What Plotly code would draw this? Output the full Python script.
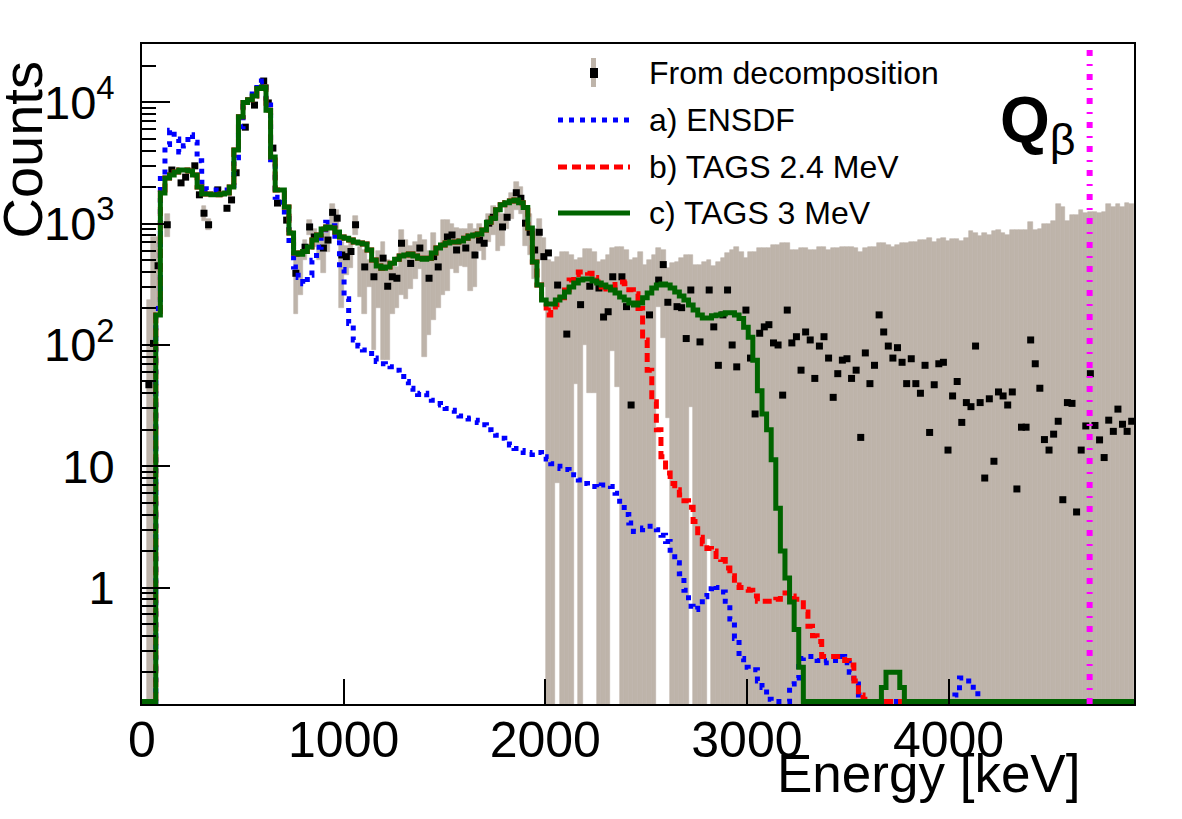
import numpy as np
import plotly.graph_objects as go

# ---------------- data ----------------
E_MAX = 4920.0          # keV, right end of the axis
N_BINS = 216            # histogram bins over [0, E_MAX]
Q_BETA = 4700.0         # keV, Q-beta marker
Y_LOG_RANGE = [-0.96, 4.4815]

X_TICKS = [0, 1000, 2000, 3000, 4000]
X_TICK_TEXT = ["0", "1000", "2000", "3000", "4000"]
Y_TICKS = [1, 10, 100, 1000, 10000]
Y_TICK_TEXT = ["1", "10", "10<sup>2</sup>", "10<sup>3</sup>", "10<sup>4</sup>"]

# c) TAGS 3 MeV
TAGS_3 = [
    0, 0, 0, 177, 1790, 2380, 2520, 2670, 2770, 2770,
    2720, 2520, 2010, 1760, 1760, 1730, 1730, 1760, 1790, 2010,
    4050, 7600, 10000, 10500, 11300, 13000, 13400, 8600, 3550, 1900,
    1900, 1370, 840, 574, 560, 590, 643, 733, 807, 904,
    940, 920, 855, 777, 760, 733, 706, 694, 680, 607,
    502, 448, 430, 440, 473, 510, 542, 552, 562, 542,
    520, 510, 520, 574, 629, 667, 694, 706, 706, 720,
    760, 790, 807, 821, 887, 1030, 1110, 1300, 1430, 1490,
    1540, 1570, 1490, 1360, 920, 483, 312, 235, 218, 218,
    235, 249, 274, 301, 325, 343, 350, 350, 337, 325,
    312, 301, 284, 268, 249, 235, 222, 214, 222, 245,
    268, 295, 312, 318, 312, 295, 274, 253, 235, 214,
    194, 177, 167, 167, 174, 177, 180, 184, 184, 177,
    165, 140, 116, 75, 42, 27, 20, 11.3, 4.5, 2.0,
    1.2, 0.76, 0.45, 0.22, 0, 0, 0, 0, 0, 0,
    0, 0, 0, 0, 0, 0, 0, 0, 0, 0,
    0, 0.15, 0.2, 0.2, 0.2, 0.15, 0, 0, 0, 0,
] + [0] * 46

# b) TAGS 2.4 MeV
TAGS_24 = [
    0, 0, 0, 177, 1790, 2380, 2520, 2670, 2770, 2770,
    2720, 2520, 2010, 1760, 1760, 1730, 1730, 1760, 1790, 2010,
    4050, 7600, 10000, 10500, 11300, 13000, 13400, 8600, 3550, 1900,
    1900, 1370, 840, 574, 560, 590, 643, 733, 807, 904,
    940, 920, 855, 777, 760, 733, 706, 694, 680, 607,
    502, 448, 430, 440, 473, 510, 542, 552, 562, 542,
    520, 510, 520, 574, 629, 667, 694, 706, 706, 720,
    760, 790, 807, 821, 887, 1030, 1110, 1300, 1430, 1490,
    1540, 1570, 1490, 1360, 920, 483, 312, 220, 177, 194,
    215, 245, 284, 343, 380, 400, 400, 390, 360, 330,
    300, 290, 295, 315, 330, 320, 285, 265, 200, 110,
    62, 34, 20, 12, 8.8, 7.2, 6.4, 5.8, 5.2, 4.6,
    3.5, 2.6, 2.3, 2.1, 2.0, 1.8, 1.7, 1.45, 1.25, 1.05,
    1.0, 0.97, 0.95, 0.85, 0.77, 0.77, 0.77, 0.77, 0.8, 0.9,
    0.9, 0.85, 0.8, 0.8, 0.63, 0.48, 0.4, 0.36, 0.27, 0.27,
    0.27, 0.27, 0.27, 0.25, 0.23, 0.17, 0.13, 0.12, 0, 0,
] + [0] * 56

# a) ENSDF
ENSDF = [
    0, 0, 0, 200, 2500, 4500, 5900, 5000, 3900, 4400,
    5400, 4700, 3300, 2200, 1900, 1900, 1900, 1900, 1900, 1900,
    3500, 6300, 9300, 11100, 12500, 14500, 15000, 9500, 3200, 1650,
    1500, 1250, 670, 440, 360, 320, 375, 500, 640, 890,
    1030, 960, 733, 420, 240, 150, 110, 98, 91, 85,
    78, 73, 70, 68, 66, 62, 55, 50, 44, 40,
    39, 40, 37, 35, 33, 32, 30, 29, 27, 26,
    25, 24.5, 24, 23, 22, 20, 19, 18, 17, 16,
    15, 14, 13.5, 13, 12.5, 13, 13, 12, 11.5, 10.5,
    10, 9.6, 9.4, 9.0, 8.5, 7.7, 7.2, 6.9, 6.8, 6.7,
    7.0, 7.0, 6.8, 6.0, 4.9, 4.0, 3.4, 2.9, 3.0, 3.1,
    3.2, 3.2, 3.0, 2.7, 2.4, 1.9, 1.6, 1.3, 0.95, 0.7,
    0.66, 0.72, 0.84, 0.98, 1.04, 1.0, 0.92, 0.77, 0.55, 0.38,
    0.26, 0.22, 0.21, 0.21, 0.17, 0.15, 0.12, 0, 0, 0,
    0, 0.16, 0.18, 0.26, 0.27, 0.27, 0.27, 0.25, 0.24, 0.25,
    0.25, 0.26, 0.27, 0.24, 0.2, 0.16, 0.13, 0, 0, 0,
    0, 0, 0, 0, 0, 0, 0, 0, 0, 0,
    0, 0, 0, 0, 0, 0, 0, 0.13, 0.18, 0.18,
    0.17, 0.14,
] + [0] * 34

# From decomposition (None = bin not drawn)
DECOMP = [
    None, 47, 103, 450, None, 980, 2770, None, 2170, 2420,
    None, 3000, 1730, 1220, 980, None, 1900, None, 1340, 1570,
    2630, None, 6250, None, 9500, None, 15000, 9900, 4200, 1480,
    None, 1070, None, 390, None, 640, 940, 777, None, 630,
    733, 1240, 1110, 552, 535, 590, 980, None, 440, None,
    365, None, 520, 305, 365, 355, 690, None, 470, None,
    630, None, 355, 535, 440, None, 777, 807, 607, None,
    630, None, 552, 733, 690, 1010, 1130, None, 940, 1130,
    None, 1800, 1620, 1010, 850, 607, 850, 535, 574, None,
    312, None, 123, None, None, 215, None, 305, None, 295,
    170, 188, 365, None, 365, 207, 32, None, None, None,
    177, None, 343, 460, 225, None, 207, 203, 113, 284,
    None, 106, None, 284, 141, 68, 177, 284, 100, 66,
    None, 194, 78, 27, 125, 141, 147, 104, 100, 38.6,
    194, 104, 117, 62, 128, 110, 53, 98, 117, 78,
    37, 58, 75, 77, 53, 62, 17.3, 86, 48, 68,
    177, 128, 98, 78, 95, 72, 48, 77, 48, 40,
    68, 19, 47, 70, 72, 13.6, 38, 50, 23, 33.5,
    31, 98, 33.5, 8, 36, 11, 41, 38, 32, 41,
    6.5, 21, 21, 110, 70, 44, 16.6, 13.6, 18.4, 23.5,
    5.3, 33.5, 33, 4.2, 13.6, 21.5, 58, 21.7, 16.5, 11.8,
    24, 19.4, 29.6, 22.2, 19.4, 23.5,
]

# uncertainty band of the decomposition: upper / lower edge (0 = below the axis)
ERR_HI = [None, 235, 780, 780, None, 1200] + [None] * 7 + [1400, 1100] + [None] * 18 + [
    535, 600, 733, 1070, 900, 800, 840, 900, 1450, 1300,
    700, 650, 720, 1150, 640, 607, 500, 480, 600, 700,
    500, 460, 440, 880, 730, 650, 700, 800, 735, 600,
    840, 650, 1070, 1070, 1000, 930, 900, 900, 1000, 900,
    1000, 900, 1200, 1400, 1250, 1200, 1500, 1800, 2200, 2000,
    1400, 1200, 900, 1100, 760,
    500, 485, 530, 580, 580, 550, 500, 520, 615, 615,
    580, 485, 500, 550, 625, 640, 640, 605, 500, 520,
    580, 460, 500, 550, 625, 605, 435, 475, 485, 520,
    550, 550, 460, 460, 485, 500, 445, 485, 520, 570,
    605, 640, 580, 520, 580, 580, 625, 625, 625, 665,
    665, 690, 690, 605, 605, 625, 625, 605, 605, 640,
    640, 605, 625, 625, 640, 640, 640, 625, 580, 625,
    640, 640, 690, 690, 665, 640, 665, 690, 690, 705,
    705, 735, 735, 760, 705, 745, 760, 720, 745, 745,
    720, 760, 870, 840, 790, 840, 810, 870, 890, 840,
    810, 890, 890, 890, 890, 1030, 890, 905, 1000, 1000,
    1060, 1450, 1370, 1060, 1170, 1170, 1290, 1220, 1260, 1260,
    1220, 1260, 1450, 1370, 1450, 1370, 1480, 1450,
]
ERR_LO = [None, 0, 0, 180, None, 780] + [None] * 7 + [1050, 880] + [None] * 18 + [
    180, 260, 500, 800, 640, 500, 390, 580, 1000, 900,
    200, 380, 430, 800, 250, 180, 300, 91, 200, 75,
    75, 180, 200, 260, 240, 290, 350, 420, 80, 120,
    160, 200, 260, 280, 420, 390, 450, 440, 280, 300,
    600, 500, 700, 800, 600, 650, 900, 1100, 1300, 1200,
    650, 550, 350, 500, 300,
    0, 0, 7.3, 0, 0, 0, 48, 0, 100, 40,
    40, 0, 0, 0, 90, 45, 0, 0, 0, 0,
    0, 0, 0, 0, 205, 115, 25, 0, 0, 0,
    0, 31, 0, 0, 0, 2.5, 0, 0, 0, 0,
] + [0] * 88

for name, arr in [("TAGS_3", TAGS_3), ("TAGS_24", TAGS_24), ("ENSDF", ENSDF),
                  ("DECOMP", DECOMP), ("ERR_HI", ERR_HI), ("ERR_LO", ERR_LO)]:
    assert len(arr) == N_BINS, (name, len(arr))

# ---------------- styling ----------------
GRAY = "#beb4aa"
BLUE = "#0000ff"
RED = "#ff0000"
GREEN = "#006400"
MAGENTA = "#ff00ff"
FONT = "Liberation Sans, Arial, Helvetica, sans-serif"
DOT = "5px,6px"
DASH = "9px,5px"
DASHDOT = "6px,8px,2px,8px"

FLOOR = 10 ** -0.94   # empty bins of the model curves sit on the frame floor
DEEP = 1e-3           # error band reaching below the axis

edges = np.linspace(0.0, E_MAX, N_BINS + 1)
centers = 0.5 * (edges[:-1] + edges[1:])
bw = edges[1] - edges[0]

# plot-area geometry in pixels (for legend / labels placement)
L, R, T, B = 142, 1134, 44, 704
def PX(x):
    return (x - L) / (R - L)
def PY(y):
    return (B - y) / (B - T)

fig = go.Figure()

# uncertainty band
gx, gbase, gh = [], [], []
for c, hi, lo in zip(centers, ERR_HI, ERR_LO):
    if hi is None:
        continue
    b = lo if lo > 0 else DEEP
    gx.append(c)
    gbase.append(b)
    gh.append(hi - b)
fig.add_trace(go.Bar(x=gx, y=gh, base=gbase, width=bw,
                     marker=dict(color=GRAY, line=dict(width=0.6, color=GRAY)),
                     hoverinfo="skip", showlegend=False))

# decomposition points
px_ = [c for c, v in zip(centers, DECOMP) if v is not None]
py_ = [v for v in DECOMP if v is not None]
fig.add_trace(go.Scatter(x=px_, y=py_, mode="markers",
                         marker=dict(symbol="square", size=7, color="black", line=dict(width=0)),
                         showlegend=False))

def step(vals):
    y = [v if v > 0 else FLOOR for v in vals]
    return list(edges), y + [y[-1]]

for vals, color, dash in [(ENSDF, BLUE, DOT), (TAGS_24, RED, DASH), (TAGS_3, GREEN, "solid")]:
    x, y = step(vals)
    fig.add_trace(go.Scatter(x=x, y=y, mode="lines",
                             line=dict(color=color, width=5, dash=dash, shape="hv"),
                             showlegend=False))

fig.add_vline(x=Q_BETA, line=dict(color=MAGENTA, width=6, dash=DASHDOT), layer="above")

MINOR = [m * 10.0 ** k for k in range(-1, 5) for m in range(2, 10)
         if 10 ** Y_LOG_RANGE[0] <= m * 10.0 ** k <= 10 ** Y_LOG_RANGE[1]]

fig.update_layout(
    width=1182, height=819,
    margin=dict(l=L, r=1182 - R, t=T, b=819 - B),
    plot_bgcolor="white", paper_bgcolor="white",
    showlegend=False, bargap=0,
    font=dict(family=FONT, color="black"),
)
fig.update_xaxes(
    range=[0, E_MAX], tickmode="array", tickvals=X_TICKS, ticktext=X_TICK_TEXT,
    ticks="inside", ticklen=25, tickwidth=1.5, tickcolor="black",
    showline=True, linecolor="black", linewidth=2, mirror=True,
    showgrid=False, zeroline=False, tickfont=dict(size=50, family=FONT),
    ticklabelstandoff=-9,
)
fig.update_yaxes(
    type="log", range=Y_LOG_RANGE, tickmode="array", tickvals=Y_TICKS, ticktext=Y_TICK_TEXT,
    ticks="inside", ticklen=28, tickwidth=1.5, tickcolor="black",
    minor=dict(tickmode="array", tickvals=MINOR, ticks="inside", ticklen=14,
               tickwidth=1.5, tickcolor="black", showgrid=False),
    showline=True, linecolor="black", linewidth=2, mirror=True,
    showgrid=False, zeroline=False, tickfont=dict(size=47, family=FONT),
    ticklabelstandoff=16,
)

# ----- legend (drawn by hand, ROOT style) -----
LEG_FONT = dict(size=32, family=FONT, color="black")
rows = [(73, "From decomposition"), (120, "a) ENSDF"), (167, "b) TAGS 2.4 MeV"), (213, "c) TAGS 3 MeV")]
for yy, txt in rows:
    fig.add_annotation(x=PX(647), y=PY(yy), xref="paper", yref="paper", text=txt,
                       showarrow=False, xanchor="left", yanchor="middle", font=LEG_FONT)
fig.add_shape(type="rect", xref="paper", yref="paper", x0=PX(591), x1=PX(596), y0=PY(87), y1=PY(58),
              fillcolor=GRAY, line=dict(width=0))
fig.add_shape(type="rect", xref="paper", yref="paper", x0=PX(590), x1=PX(598), y0=PY(78), y1=PY(68),
              fillcolor="black", line=dict(width=0))
for yy, color, dash in [(120, BLUE, DOT), (167, RED, DASH), (213, GREEN, "solid")]:
    fig.add_shape(type="line", xref="paper", yref="paper", x0=PX(558), x1=PX(630), y0=PY(yy), y1=PY(yy),
                  line=dict(color=color, width=5, dash=dash))

# Q-beta label
fig.add_annotation(x=PX(1078), y=PY(124), xref="paper", yref="paper",
                   text="<b>Q</b><sub>β</sub>", showarrow=False, xanchor="right", yanchor="middle",
                   font=dict(size=64, family=FONT, color="black"))

# axis titles (ROOT puts them at the axis end)
fig.add_annotation(x=PX(1082), y=PY(774), xref="paper", yref="paper", text="Energy [keV]",
                   showarrow=False, xanchor="right", yanchor="middle",
                   font=dict(size=53, family=FONT, color="black"))
fig.add_annotation(x=PX(22), y=PY(60), xref="paper", yref="paper", text="Counts", textangle=-90,
                   showarrow=False, xanchor="center", yanchor="top",
                   font=dict(size=56, family=FONT, color="black"))

fig.write_html("out.html")
